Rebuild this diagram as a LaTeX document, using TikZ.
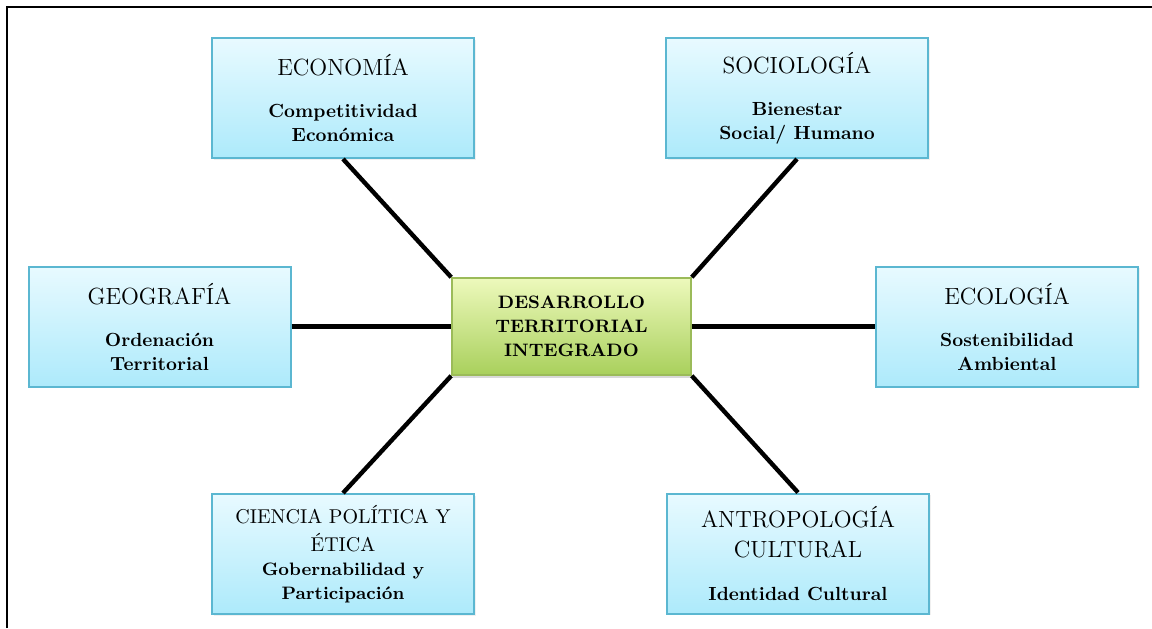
\documentclass[tikz,border=0pt]{standalone}
\usepackage{tikz}
\usetikzlibrary{shadows}
\definecolor{frameblue}{HTML}{5BB7D1}
\definecolor{skytop}{HTML}{E8FAFF}
\definecolor{skybot}{HTML}{ADEAFB}
\definecolor{limetop}{HTML}{EDF9BC}
\definecolor{limebot}{HTML}{A9D05C}
\definecolor{framegreen}{HTML}{9BBB59}
\newcommand{\titfont}{\fontsize{11.7}{14}\selectfont\mdseries}
\newcommand{\smalltit}{\fontsize{10}{13}\selectfont\mdseries}

\begin{document}
\begin{tikzpicture}[x=.5pt,y=-.5pt,
  field/.style={draw=frameblue,line width=1pt,top color=skytop,bottom color=skybot,
    minimum width=131pt,minimum height=60pt,align=center,inner sep=2pt,
    font=\fontsize{9.5}{12}\selectfont\bfseries,
    drop shadow={opacity=.12,shadow xshift=.8pt,shadow yshift=-.8pt}},
  core/.style={draw=framegreen,line width=.8pt,top color=limetop,bottom color=limebot,
    minimum width=119.5pt,minimum height=48.5pt,align=center,
    font=\fontsize{9}{12}\selectfont\bfseries,
    drop shadow={opacity=.3,shadow xshift=.6pt,shadow yshift=-1.5pt}},
  link/.style={line width=2.2pt,black}]
  \useasboundingbox (0,0) rectangle (1152,628);
  \draw[line width=1pt] (7,628) -- (7,7) -- (1152,7);
  % the six fields round the centre
  \node[field] (eco) at (343,98) {{\titfont ECONOMÍA}\\[9pt]Competitividad\\Económica};
  \node[field] (soc) at (797,98) {{\titfont SOCIOLOGÍA}\\[9pt]Bienestar\\Social/ Humano};
  \node[field] (geo) at (159.5,326.5) {{\titfont GEOGRAFÍA}\\[9pt]Ordenación\\Territorial};
  \node[field] (ecol) at (1007,326.5) {{\titfont ECOLOGÍA}\\[9pt]Sostenibilidad\\Ambiental};
  \node[field,font=\fontsize{9}{12}\selectfont\bfseries] (cien) at (343,554)
    {{\smalltit CIENCIA POLÍTICA Y}\\[2pt]{\smalltit ÉTICA}\\Gobernabilidad y\\Participación};
  \node[field] (antro) at (798,553.5)
    {{\titfont ANTROPOLOGÍA}\\[3pt]{\titfont CULTURAL}\\[9.5pt]Identidad Cultural};
  \node[core] (dti) at (571.5,326.5) {DESARROLLO\\TERRITORIAL\\INTEGRADO};
  % connectors
  \draw[link] (eco.south) -- (dti.north west);
  \draw[link] (soc.south) -- (dti.north east);
  \draw[link] (geo.east) -- (dti.west);
  \draw[link] (dti.east) -- (ecol.west);
  \draw[link] (cien.north) -- (dti.south west);
  \draw[link] (antro.north) -- (dti.south east);
\end{tikzpicture}
\end{document}
